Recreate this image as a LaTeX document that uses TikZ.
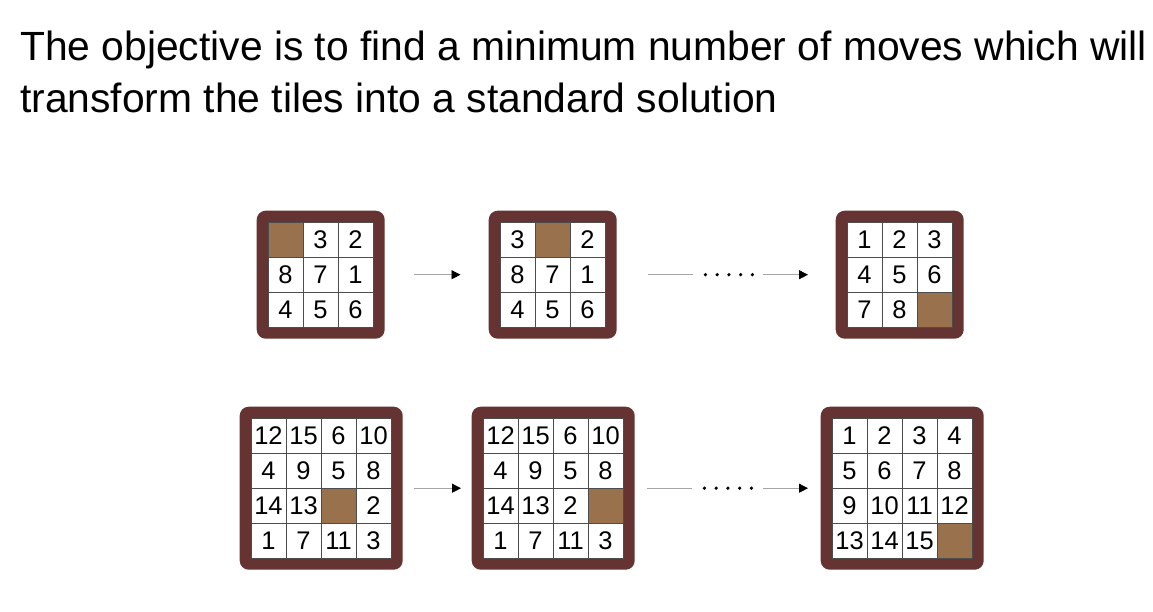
\documentclass[tikz,border=0pt]{standalone}
\usepackage{fontspec}
\setmainfont{Liberation Sans}
\usetikzlibrary{arrows.meta,calc}
\definecolor{framecol}{RGB}{102,51,51}
\definecolor{tilecol}{RGB}{153,114,77}
\definecolor{linecol}{RGB}{165,165,165}
\tikzset{
  frame/.style={fill=framecol,draw=none,rounded corners=9pt,inner sep=0pt},
  cell/.style={fill=white,draw=black!70,line width=0.9pt,minimum size=35pt,inner sep=0pt,
    font=\fontsize{25.5}{25.5}\selectfont},
  blank/.style={cell,fill=tilecol},
  gline/.style={draw=linecol,line width=0.9pt},
  arr/.style={gline,-{Triangle[length=9pt,width=9pt,color=black,fill=black]}},
  titletext/.style={anchor=base west,inner sep=0pt,font=\fontsize{40.8}{48}\selectfont}
}
\newcommand\puz[5]{% name, grid left, grid top, n, list (0 = blank)
  \pgfmathsetmacro\gs{35*#4+23}
  \node[frame,minimum width=\gs pt,minimum height=\gs pt,anchor=north west] (#1) at (#2-11.5,#3-11.5) {};
  \foreach \v [count=\i from 0] in {#5} {
    \pgfmathtruncatemacro\rr{floor(\i/#4)}
    \pgfmathtruncatemacro\cc{mod(\i,#4)}
    \ifnum\v=0
      \node[blank] (#1-\i) at (#2+35*\cc+17.5,#3+35*\rr+17.5) {};
    \else
      \node[cell] (#1-\i) at (#2+35*\cc+17.5,#3+35*\rr+17.5) {\v};
    \fi
  }
}
\begin{document}
\begin{tikzpicture}[x=1pt,y=-1pt]
\useasboundingbox[fill=white] (0,0) rectangle (1153,611);
\node[titletext] (t1) at (20,60) {The objective is to find a minimum number of moves which will};
\node[titletext] (t2) at (20,112) {transform the tiles into a standard solution};
% top row
\puz{p1}{268}{222}{3}{0,3,2,8,7,1,4,5,6}
\puz{p2}{500}{222}{3}{3,0,2,8,7,1,4,5,6}
\puz{p3}{847}{222}{3}{1,2,3,4,5,6,7,8,0}
% bottom row
\puz{q1}{251}{418}{4}{12,15,6,10,4,9,5,8,14,13,0,2,1,7,11,3}
\puz{q2}{483}{418}{4}{12,15,6,10,4,9,5,8,14,13,2,0,1,7,11,3}
\puz{q3}{832}{418}{4}{1,2,3,4,5,6,7,8,9,10,11,12,13,14,15,0}
% arrows top
\draw[arr] ([xshift=29.5pt]p1.east) -- ([xshift=-28pt]p2.west);
\path ([xshift=31.5pt]p2.east) coordinate (d1s) ([xshift=-27.5pt]p3.west) coordinate (d1e);
\draw[gline] (d1s) -- ++(45,0);
\foreach \k in {0,...,4} \fill ($(d1s)+(57+11.75*\k,0)$) circle (1.8pt);
\draw[arr] ($(d1e)+(-45,0)$) -- (d1e);
% arrows bottom
\draw[arr] ([xshift=11.5pt]q1.east) -- ([xshift=-10.5pt]q2.west);
\path ([xshift=12.5pt]q2.east) coordinate (d2s) ([xshift=-12.5pt]q3.west) coordinate (d2e);
\draw[gline] (d2s) -- ++(45,0);
\foreach \k in {0,...,4} \fill ($(d2s)+(57+11.75*\k,0)$) circle (1.8pt);
\draw[arr] ($(d2e)+(-45,0)$) -- (d2e);
\end{tikzpicture}
\end{document}
